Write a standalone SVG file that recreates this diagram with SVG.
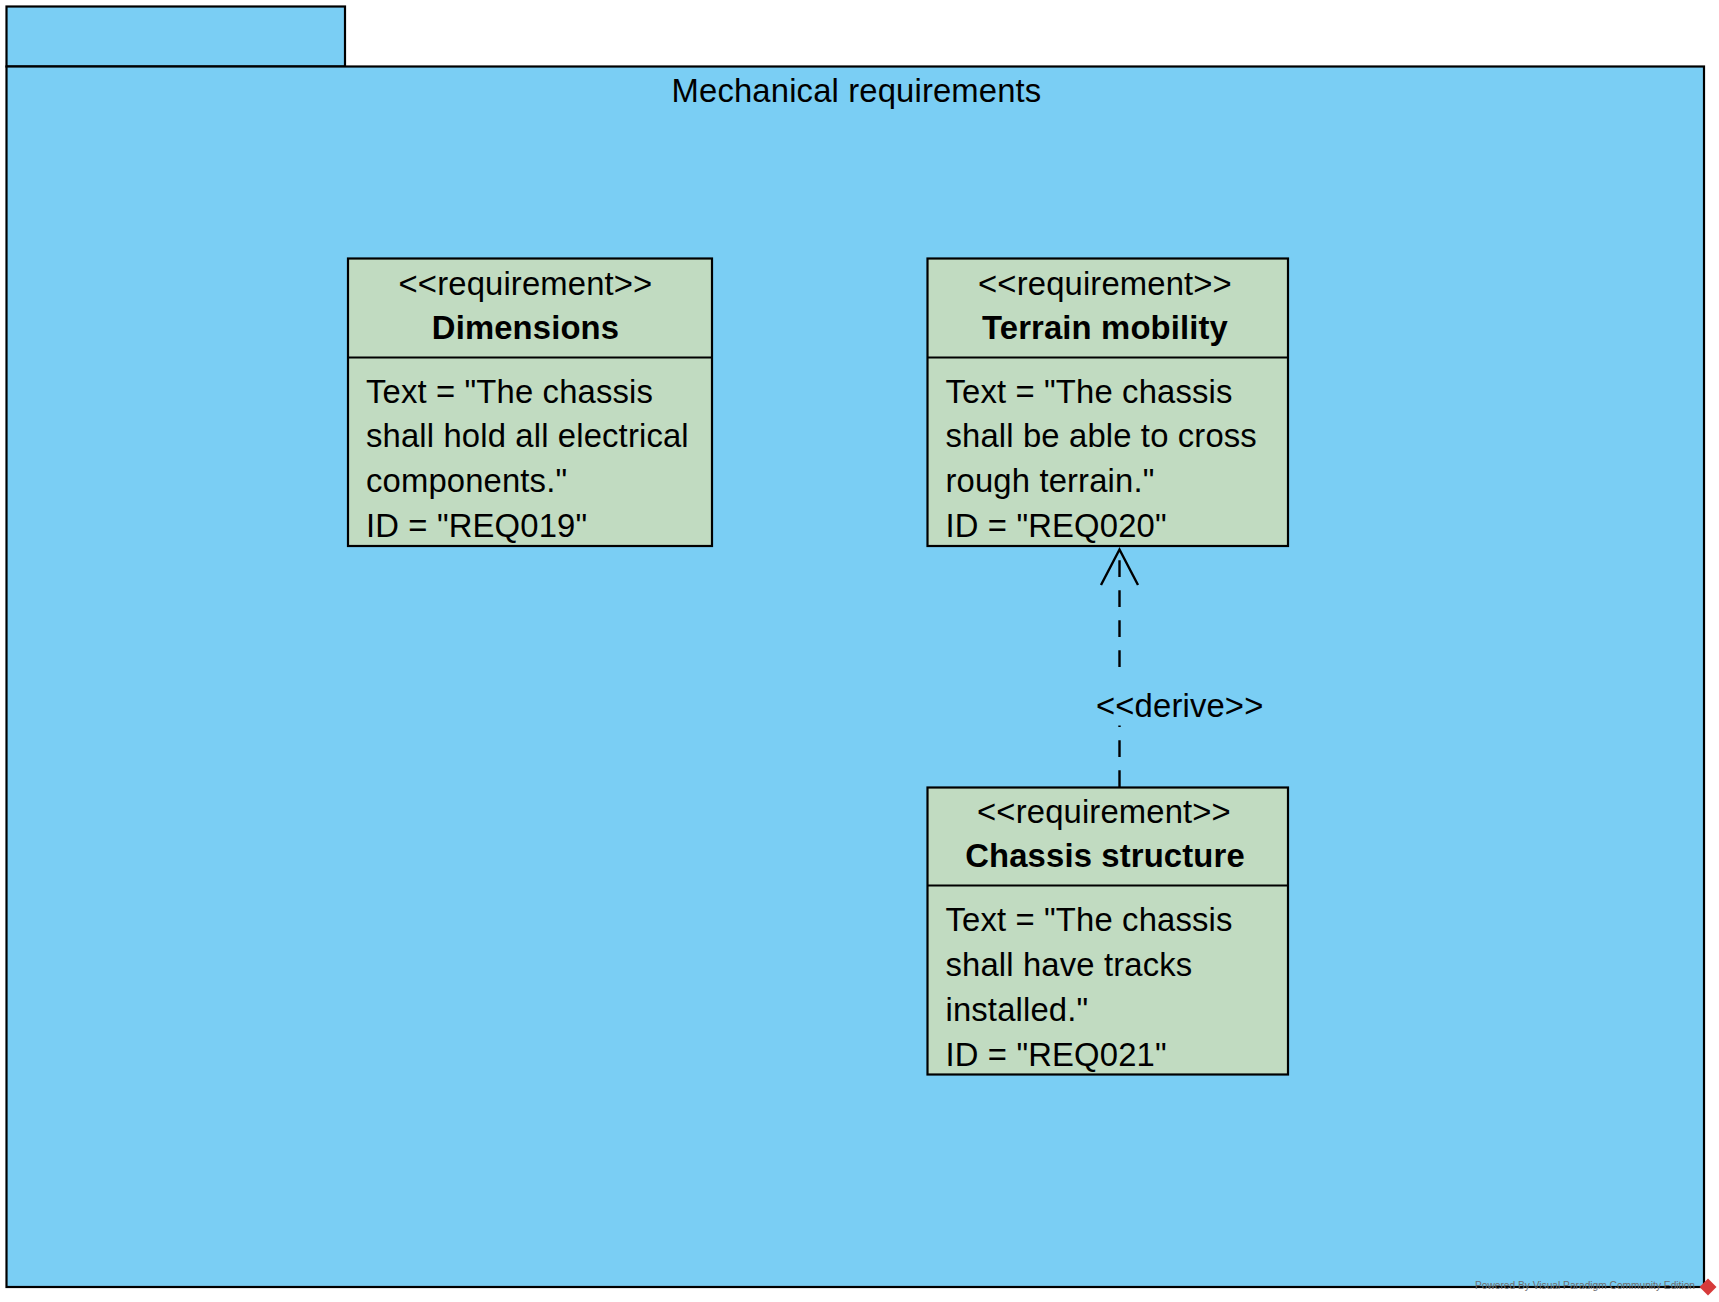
<svg xmlns="http://www.w3.org/2000/svg" width="1719" height="1302" viewBox="0 0 1719 1302">
<style>
.pkg{fill:#7ACEF4;stroke:#000;stroke-width:2.2}
.req{fill:#C1DBC1;stroke:#000;stroke-width:2.2}
.div{stroke:#000;stroke-width:2.2;fill:none}
text{font-family:"Liberation Sans",Arial,sans-serif;font-size:32.8px;letter-spacing:0.15px;fill:#000}
.c{text-anchor:middle}
.b{font-weight:bold}
.conn{stroke:#000;stroke-width:2.4;fill:none}
.wm{font-size:10.5px;letter-spacing:0;fill:#6d6d6d}
</style>
<rect width="1719" height="1302" fill="#fff"/>
<g id="package-mechanical-requirements">
<rect class="pkg" x="6.5" y="6.5" width="338.5" height="60"/>
<rect class="pkg" x="6.5" y="66.5" width="1697.5" height="1220.5"/>
<text class="c" x="856.5" y="101.5">Mechanical requirements</text>
</g>
<g id="connectors">
<path class="conn" d="M1119.5 787 V550" stroke-dasharray="16.7 13.3"/>
<path class="conn" d="M1101 585 L1119.5 549.5 L1138 585"/>
<rect x="1094" y="667.5" width="170" height="58" fill="#7ACEF4"/>
<text x="1096" y="716.5">&lt;&lt;derive&gt;&gt;</text>
</g>
<g id="req-dimensions">
<rect class="req" x="348" y="258.5" width="364" height="287.5"/>
<line class="div" x1="348" y1="357.5" x2="712" y2="357.5"/>
<text class="c" x="525.5" y="294.5">&lt;&lt;requirement&gt;&gt;</text>
<text class="c b" x="525.5" y="339">Dimensions</text>
<text x="366" y="402.5">Text = "The chassis</text>
<text x="366" y="447">shall hold all electrical</text>
<text x="366" y="492">components."</text>
<text x="366" y="537">ID = "REQ019"</text>
</g>
<g id="req-terrain-mobility">
<rect class="req" x="927.5" y="258.5" width="360.5" height="287.5"/>
<line class="div" x1="927.5" y1="357.5" x2="1288" y2="357.5"/>
<text class="c" x="1105" y="294.5">&lt;&lt;requirement&gt;&gt;</text>
<text class="c b" x="1105" y="339">Terrain mobility</text>
<text x="945.5" y="402.5">Text = "The chassis</text>
<text x="945.5" y="447">shall be able to cross</text>
<text x="945.5" y="492">rough terrain."</text>
<text x="945.5" y="537">ID = "REQ020"</text>
</g>
<g id="req-chassis-structure">
<rect class="req" x="927.5" y="787.5" width="360.5" height="287"/>
<line class="div" x1="927.5" y1="885.5" x2="1288" y2="885.5"/>
<text class="c" x="1104" y="822.5">&lt;&lt;requirement&gt;&gt;</text>
<text class="c b" x="1105" y="867">Chassis structure</text>
<text x="945.5" y="930.5">Text = "The chassis</text>
<text x="945.5" y="975.5">shall have tracks</text>
<text x="945.5" y="1020.5">installed."</text>
<text x="945.5" y="1065.5">ID = "REQ021"</text>
</g>
<g id="watermark">
<text class="wm" x="1475" y="1288.5" textLength="220" lengthAdjust="spacingAndGlyphs">Powered By Visual Paradigm Community Edition</text>
<rect x="1702" y="1281" width="12" height="12" fill="#D63A3A" transform="rotate(45 1708 1287)"/>
</g>
</svg>
